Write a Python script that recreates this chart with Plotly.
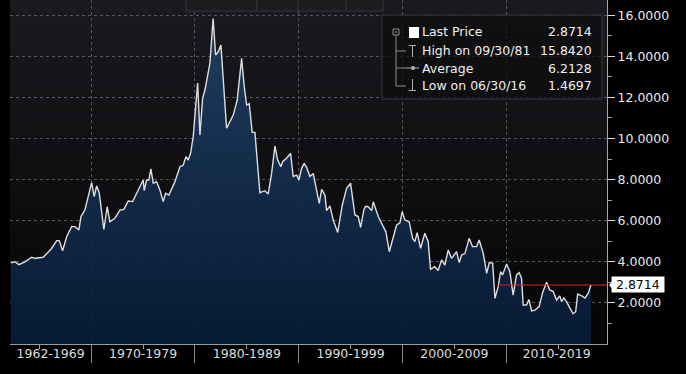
import plotly.graph_objects as go

# ---------------- data ----------------
YEARS = [1962.25, 1962.65, 1963.03, 1963.61, 1964.26, 1964.57, 1965.37, 1966.18, 1966.67, 1966.92,
         1967.24, 1967.63, 1968.11, 1968.43, 1968.81, 1969.01, 1969.39, 1970.04, 1970.29, 1970.52,
         1970.77, 1971.22, 1971.54, 1971.80, 1972.28, 1972.77, 1973.15, 1973.57, 1973.99, 1974.53,
         1975.01, 1975.11, 1975.34, 1975.56, 1975.75, 1975.98, 1976.30, 1976.62, 1976.94, 1977.17,
         1977.49, 1978.07, 1978.55, 1978.87, 1979.13, 1979.35, 1979.58, 1979.83, 1980.26, 1980.48,
         1980.74, 1980.96, 1981.44, 1981.75, 1981.99, 1982.24, 1982.50, 1983.05, 1983.69, 1984.07,
         1984.50, 1984.75, 1984.98, 1985.23, 1985.52, 1985.78, 1986.26, 1986.74, 1987.06, 1987.39,
         1987.71, 1987.97, 1988.28, 1988.45, 1988.83, 1989.22, 1989.47, 1989.80, 1990.02, 1990.28,
         1990.53, 1990.76, 1991.08, 1991.40, 1991.72, 1991.98, 1992.21, 1992.53, 1992.69, 1993.01,
         1993.33, 1993.76, 1994.20, 1994.62, 1995.00, 1995.42, 1995.74, 1995.97, 1996.29, 1996.45,
         1996.70, 1997.03, 1997.19, 1997.67, 1998.15, 1998.41, 1998.73, 1999.11, 1999.44, 1999.76,
         1999.98, 2000.24, 2000.65, 2000.98, 2001.20, 2001.42, 2001.75, 2002.16, 2002.48, 2002.71,
         2003.12, 2003.44, 2003.77, 2004.09, 2004.41, 2004.73, 2005.22, 2005.47, 2005.70, 2006.02,
         2006.43, 2006.76, 2007.15, 2007.40, 2007.79, 2008.12, 2008.37, 2008.70, 2008.92, 2009.23,
         2009.46, 2009.65, 2010.04, 2010.36, 2010.67, 2011.00, 2011.25, 2011.48, 2011.64, 2011.97,
         2012.19, 2012.45, 2012.77, 2013.18, 2013.51, 2013.89, 2014.21, 2014.53, 2014.86, 2015.17,
         2015.34, 2015.56, 2015.82, 2016.07, 2016.45, 2016.70, 2016.89, 2017.28, 2017.60, 2017.92,
         2018.17]

YIELDS = [3.95, 4.00, 3.86, 4.00, 4.22, 4.17, 4.22, 4.65, 5.03, 5.03,
          4.54, 5.22, 5.71, 5.71, 5.55, 6.20, 6.52, 7.85, 7.17, 7.69,
          7.36, 5.58, 6.68, 5.95, 6.12, 6.52, 6.55, 6.96, 6.93, 7.49,
          7.98, 7.46, 7.98, 7.98, 8.52, 7.82, 7.90, 7.49, 6.93, 7.33,
          7.25, 7.90, 8.63, 8.71, 9.12, 8.95, 9.28, 10.09, 12.70, 10.17,
          11.96, 12.36, 13.66, 15.842, 14.06, 14.22, 14.55, 10.50, 11.14, 11.87,
          13.90, 12.52, 11.63, 11.70, 10.30, 10.30, 7.36, 7.46, 7.30, 8.30,
          9.63, 8.95, 8.63, 8.87, 9.04, 9.28, 8.15, 8.22, 7.98, 8.55,
          8.79, 8.60, 8.15, 8.30, 7.49, 6.84, 7.52, 7.25, 6.49, 6.72,
          6.03, 5.43, 6.76, 7.58, 7.82, 6.28, 6.20, 5.67, 6.55, 6.70,
          6.68, 6.49, 6.92, 6.20, 5.71, 5.46, 4.49, 5.14, 5.79, 5.90,
          6.44, 6.03, 5.95, 5.14, 4.98, 5.42, 4.66, 5.39, 4.98, 3.63,
          3.76, 3.57, 4.09, 3.84, 4.57, 4.17, 4.49, 3.96, 4.33, 4.40,
          5.14, 4.74, 4.74, 5.06, 4.41, 3.44, 3.96, 3.93, 2.22, 2.79,
          3.52, 3.36, 3.89, 3.52, 2.38, 3.36, 3.47, 3.20, 1.90, 1.90,
          2.17, 1.61, 1.65, 1.82, 2.50, 3.00, 2.63, 2.55, 2.14, 2.34,
          2.06, 2.24, 2.06, 1.82, 1.4697, 1.57, 2.43, 2.34, 2.24, 2.47,
          2.8714]

DECADE_LABELS = ["1962-1969", "1970-1979", "1980-1989", "1990-1999", "2000-2009", "2010-2019"]
DECADE_BOUNDS = [1970, 1980, 1990, 2000, 2010]
MID_DECADES = [1965, 1975, 1985, 1995, 2005, 2015]
Y_TICKS = [2, 4, 6, 8, 10, 12, 14, 16]
Y_MINOR = [1, 3, 5, 7, 9, 11, 13, 15]

LEGEND_NAMES = ["Last Price", "High on 09/30/81", "Average", "Low on 06/30/16"]
LEGEND_VALUES = ["2.8714", "15.8420", "6.2128", "1.4697"]
LAST_PRICE = 2.8714
REDLINE_START = 2009.2

# ---------------- geometry ----------------
W, H = 686, 374
ML, MR, MT, MB = 10, 79, 0, 30
PW, PH = W - ML - MR, H - MT - MB
X_RANGE = [1962.17, 2019.72]
Y_RANGE = [0, 16.74]

FONT = "DejaVu Sans"


def px(xp):
    return (xp - ML) / PW


def py(yp):
    return 1 - (yp - MT) / PH


def yv(v):
    return (v - Y_RANGE[0]) / (Y_RANGE[1] - Y_RANGE[0])


# label positions: centre of each visible decade span
spans = [X_RANGE[0]] + DECADE_BOUNDS + [X_RANGE[1]]
label_pos = [(spans[i] + spans[i + 1]) / 2 for i in range(len(DECADE_LABELS))]

fig = go.Figure()

fig.add_trace(go.Scatter(
    x=YEARS, y=YIELDS, mode="lines",
    line=dict(color="#dedede", width=1.4),
    fill="tozeroy",
    fillgradient=dict(type="vertical",
                      colorscale=[[0, "rgba(7,28,56,0.9)"], [1, "rgba(32,64,102,0.9)"]],
                      start=0, stop=16),
    hoverinfo="skip", showlegend=False,
))

# red last-price line
fig.add_trace(go.Scatter(
    x=[REDLINE_START, X_RANGE[1]], y=[LAST_PRICE, LAST_PRICE], mode="lines",
    line=dict(color="#e0201c", width=1.2), hoverinfo="skip", showlegend=False,
))

# invisible trace to carry the label axis
fig.add_trace(go.Scatter(x=[], y=[], xaxis="x2", showlegend=False))

shapes = []
# plot background gradient
N = 40
for i in range(N):
    t = i / (N - 1)
    r = int(5 + (27 - 5) * t)
    g = int(5 + (27 - 5) * t)
    b = int(7 + (31 - 7) * t)
    shapes.append(dict(type="rect", xref="paper", yref="paper", layer="below",
                       x0=0, x1=1, y0=i / N, y1=(i + 1) / N + 0.002,
                       fillcolor=f"rgb({r},{g},{b})", line=dict(width=0)))

# top toolbar tabs
for a, b_ in [(186, 257), (257, 298), (298, 346), (346, 383)]:
    shapes.append(dict(type="rect", xref="paper", yref="paper", layer="above",
                       x0=px(a), x1=px(b_), y0=py(11), y1=py(-1),
                       fillcolor="#1c1c1f", line=dict(color="#35353a", width=1)))

# legend box
shapes.append(dict(type="rect", xref="paper", yref="paper", layer="above",
                   x0=px(382), x1=px(602), y0=py(99), y1=py(15),
                   fillcolor="rgba(12,12,14,0.72)", line=dict(color="#38383c", width=1)))
# tree lines
tree_col = "#8c8c8c"
shapes.append(dict(type="rect", xref="paper", yref="paper", layer="above",
                   x0=px(393), x1=px(399), y0=py(35), y1=py(29),
                   line=dict(color=tree_col, width=1)))
shapes.append(dict(type="line", xref="paper", yref="paper", layer="above",
                   x0=px(394.5), x1=px(397.5), y0=py(32), y1=py(32), line=dict(color=tree_col, width=1)))
shapes.append(dict(type="line", xref="paper", yref="paper", layer="above",
                   x0=px(396), x1=px(396), y0=py(35), y1=py(86), line=dict(color=tree_col, width=1)))
for yy in [51, 68, 86]:
    shapes.append(dict(type="line", xref="paper", yref="paper", layer="above",
                       x0=px(396), x1=px(406), y0=py(yy), y1=py(yy), line=dict(color=tree_col, width=1)))
# white square (last price)
shapes.append(dict(type="rect", xref="paper", yref="paper", layer="above",
                   x0=px(409), x1=px(419), y0=py(38), y1=py(27),
                   fillcolor="#ffffff", line=dict(width=0)))
icon_col = "#b0b0b0"
# high icon
shapes.append(dict(type="line", xref="paper", yref="paper", layer="above",
                   x0=px(409), x1=px(416), y0=py(45.5), y1=py(45.5), line=dict(color=icon_col, width=1)))
shapes.append(dict(type="line", xref="paper", yref="paper", layer="above",
                   x0=px(412.5), x1=px(412.5), y0=py(45.5), y1=py(57), line=dict(color=icon_col, width=1)))
# average icon
shapes.append(dict(type="line", xref="paper", yref="paper", layer="above",
                   x0=px(406), x1=px(419), y0=py(68), y1=py(68), line=dict(color=icon_col, width=1)))
shapes.append(dict(type="circle", xref="paper", yref="paper", layer="above",
                   x0=px(411), x1=px(415), y0=py(70), y1=py(66), fillcolor=icon_col, line=dict(width=0)))
# low icon
shapes.append(dict(type="line", xref="paper", yref="paper", layer="above",
                   x0=px(412.5), x1=px(412.5), y0=py(79), y1=py(90.5), line=dict(color=icon_col, width=1)))
shapes.append(dict(type="line", xref="paper", yref="paper", layer="above",
                   x0=px(409), x1=px(416), y0=py(90.5), y1=py(90.5), line=dict(color=icon_col, width=1)))

# last price marker arrow on the axis
ly = yv(LAST_PRICE)
shapes.append(dict(type="path", xref="paper", yref="paper", layer="above",
                   path=f"M {px(615)} {ly + 7 / PH} L {px(609)} {ly} L {px(615)} {ly - 7 / PH} Z",
                   fillcolor="#ffffff", line=dict(width=0)))

annotations = []
row_y = [32, 50.5, 68, 85]
for name, val, yy in zip(LEGEND_NAMES, LEGEND_VALUES, row_y):
    annotations.append(dict(xref="paper", yref="paper", x=px(420), y=py(yy), text=name,
                            showarrow=False, xanchor="left", yanchor="middle",
                            font=dict(family=FONT, size=12.5, color="#f0f0f0")))
    annotations.append(dict(xref="paper", yref="paper", x=px(594), y=py(yy), text=val,
                            showarrow=False, xanchor="right", yanchor="middle",
                            font=dict(family=FONT, size=12.5, color="#f0f0f0")))

annotations.append(dict(xref="paper", yref="y", x=1, y=LAST_PRICE, text=f" {LAST_PRICE:.4f} ",
                        showarrow=False, xanchor="left", yanchor="middle", xshift=4,
                        bgcolor="#ffffff", borderpad=0,
                        font=dict(family=FONT, size=12.5, color="#000000")))

fig.update_layout(
    width=W, height=H,
    margin=dict(l=ML, r=MR, t=MT, b=MB),
    paper_bgcolor="#000000",
    plot_bgcolor="rgba(0,0,0,0)",
    showlegend=False,
    shapes=shapes,
    annotations=annotations,
    xaxis=dict(
        range=X_RANGE, tickmode="array", tickvals=DECADE_BOUNDS, showticklabels=False,
        showgrid=True, gridcolor="#565659", griddash="dot", gridwidth=1,
        ticks="outside", ticklen=18, tickcolor="#8a8a8a", tickwidth=1,
        showline=True, linecolor="#9c9c9c", linewidth=1, zeroline=False,
        minor=dict(tickmode="array", tickvals=MID_DECADES, ticks="outside", ticklen=4,
                   tickcolor="#a0a0a0", showgrid=False),
    ),
    xaxis2=dict(
        range=X_RANGE, overlaying="x", side="bottom", anchor="y",
        tickmode="array", tickvals=label_pos, ticktext=DECADE_LABELS,
        ticks="", showgrid=False, showline=False, zeroline=False,
        tickfont=dict(family=FONT, size=12.5, color="#dcdcdc"),
    ),
    yaxis=dict(
        range=Y_RANGE, side="right", tickmode="array", tickvals=Y_TICKS, tickformat=".4f",
        showgrid=True, gridcolor="#565659", griddash="dot", gridwidth=1,
        ticks="outside", ticklen=7, tickcolor="#d8d8d8", tickwidth=1,
        showline=True, linecolor="#a8a8a8", linewidth=1, zeroline=False,
        tickfont=dict(family=FONT, size=12.5, color="#e8e8e8"),
        minor=dict(tickmode="array", tickvals=Y_MINOR, ticks="outside", ticklen=4,
                   tickcolor="#a0a0a0", showgrid=False),
    ),
)

fig.write_html(
    "out.html",
    config={"displayModeBar": False},
    post_script="document.body.style.margin='0';document.body.style.background='#000';",
)
